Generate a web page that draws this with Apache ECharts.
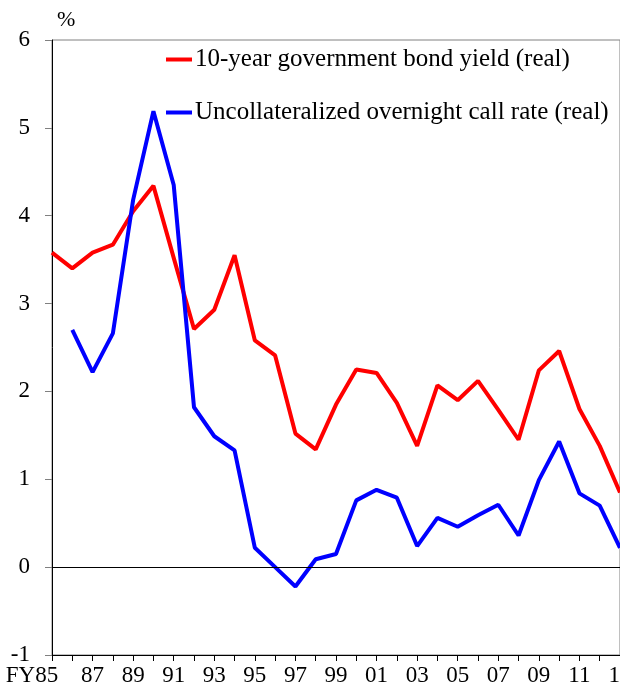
<!DOCTYPE html>
<html>
<head>
<meta charset="utf-8">
<script src="https://cdn.jsdelivr.net/npm/echarts@6/dist/echarts.min.js"></script>
<style>
  html, body { margin: 0; padding: 0; background: #fff; }
  #chart { width: 620px; height: 693px; }
</style>
</head>
<body>
<div id="chart"></div>
<script>
// fiscal years FY85 .. FY13
var years = ["85", "86", "87", "88", "89", "90", "91", "92", "93", "94", "95", "96", "97", "98", "99",
  "00", "01", "02", "03", "04", "05", "06", "07", "08", "09", "10", "11", "12", "13"];
// 10-year government bond yield (real)
var bondYield = [3.58, 3.40, 3.58, 3.67, 4.05, 4.34, 3.52, 2.71, 2.93, 3.55, 2.58, 2.41, 1.52, 1.34, 1.85,
  2.25, 2.21, 1.87, 1.38, 2.07, 1.90, 2.12, 1.79, 1.45, 2.24, 2.46, 1.80, 1.38, 0.85];
// uncollateralized overnight call rate (real), no value for FY85
var callRate = [null, 2.70, 2.22, 2.66, 4.18, 5.19, 4.35, 1.82, 1.49, 1.33, 0.22, 0.0, -0.22, 0.09, 0.15,
  0.76, 0.88, 0.79, 0.24, 0.56, 0.46, 0.59, 0.71, 0.36, 0.99, 1.43, 0.84, 0.70, 0.22];
var seriesNames = ["10-year government bond yield (real)", "Uncollateralized overnight call rate (real)"];

var font = "'Liberation Serif', 'Times New Roman', serif";
var myChart = echarts.init(document.getElementById("chart"));
var option = {
  animation: false,
  textStyle: { fontFamily: font },
  title: {
    text: "%",
    left: 57,
    top: 9,
    padding: 0,
    textStyle: { fontFamily: font, fontSize: 22, fontWeight: "normal", color: "#000" }
  },
  legend: {
    orient: "vertical",
    left: 166,
    top: 47,
    padding: 0,
    itemWidth: 26,
    itemHeight: 4,
    itemGap: 28,
    icon: "rect",
    textStyle: { fontFamily: font, fontSize: 25, color: "#000", lineHeight: 25, padding: [0, 0, 0, -2] },
    data: seriesNames
  },
  grid: {
    left: 52,
    right: 0,
    top: 40,
    bottom: 38,
    outerBoundsMode: "none",
    containLabel: false,
    show: true,
    borderColor: "#808080",
    borderWidth: 1
  },
  xAxis: {
    type: "category",
    boundaryGap: false,
    data: years,
    axisLine: { onZero: false, lineStyle: { color: "#000", width: 1 } },
    axisTick: { show: true, interval: 0, length: 6, lineStyle: { color: "#000" } },
    axisLabel: {
      interval: 1,
      margin: 9,
      hideOverlap: false,
      showMaxLabel: true,
      fontFamily: font,
      fontSize: 23,
      color: "#000",
      formatter: function (v, i) {
        return i === 0 ? "{fy|FY}85{sp|}" : v;
      },
      rich: {
        fy: { fontFamily: font, fontSize: 23, color: "#000" },
        sp: { width: 40 }
      }
    },
    splitLine: { show: false }
  },
  yAxis: {
    type: "value",
    min: -1,
    max: 6,
    interval: 1,
    axisLine: { show: true, lineStyle: { color: "#000", width: 1 } },
    axisTick: { show: true, length: 7, lineStyle: { color: "#808080" } },
    axisLabel: { margin: 22, fontFamily: font, fontSize: 23, color: "#000" },
    splitLine: { show: false }
  },
  series: [
    {
      name: seriesNames[0],
      type: "line",
      data: bondYield,
      symbol: "none",
      color: "#ff0000",
      lineStyle: { color: "#ff0000", width: 4 },
      z: 3,
      markLine: {
        silent: true,
        symbol: "none",
        label: { show: false },
        lineStyle: { color: "#000", width: 1, type: "solid" },
        data: [{ yAxis: 0 }]
      }
    },
    {
      name: seriesNames[1],
      type: "line",
      data: callRate,
      symbol: "none",
      color: "#0000ff",
      lineStyle: { color: "#0000ff", width: 4 },
      z: 4
    }
  ]
};
myChart.setOption(option);
</script>
</body>
</html>
